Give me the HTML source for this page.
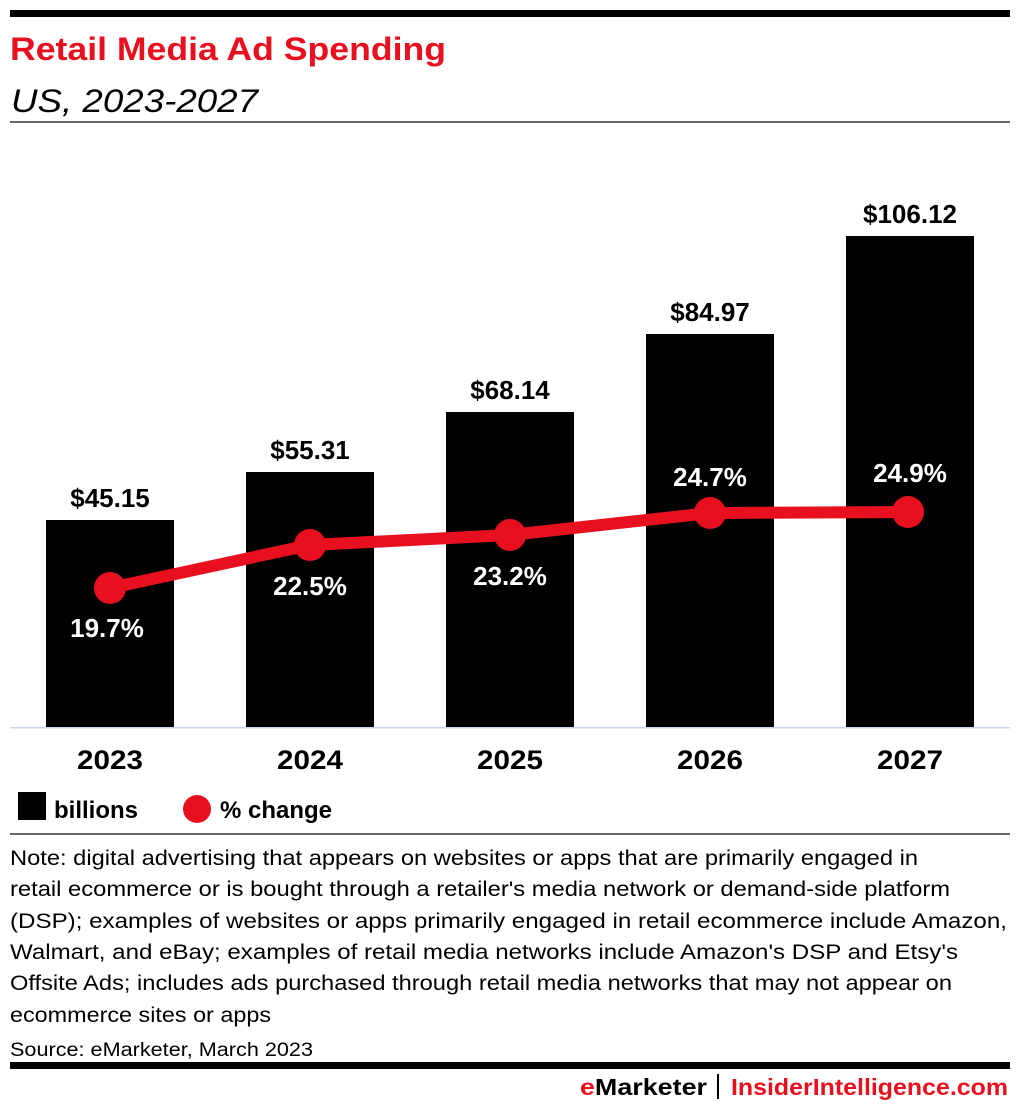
<!DOCTYPE html>
<html><head><meta charset="utf-8"><style>
html,body{margin:0;padding:0;background:#fff;}
svg{display:block;font-family:"Liberation Sans",sans-serif;}
</style></head><body>
<svg width="1020" height="1112" viewBox="0 0 1020 1112" xmlns="http://www.w3.org/2000/svg">
<rect x="10" y="10" width="1000" height="7" fill="#000"/>
<text x="10" y="60" font-size="32" font-weight="bold" fill="#e8101e" textLength="436" lengthAdjust="spacingAndGlyphs">Retail Media Ad Spending</text>
<text x="11" y="112" font-size="32" font-style="italic" fill="#000" textLength="247" lengthAdjust="spacingAndGlyphs">US, 2023-2027</text>
<rect x="10" y="121" width="1000" height="2" fill="#666"/>
<g fill="#000">
<rect x="46" y="520" width="128" height="208"/>
<rect x="246" y="472" width="128" height="256"/>
<rect x="446" y="412" width="128" height="316"/>
<rect x="646" y="334" width="128" height="394"/>
<rect x="846" y="236" width="128" height="492"/>
</g>
<rect x="10" y="727" width="1000" height="1.5" fill="#c8d6e8"/>
<g font-size="26" font-weight="bold" text-anchor="middle" fill="#000">
<text x="110" y="507">$45.15</text>
<text x="310" y="459">$55.31</text>
<text x="510" y="399">$68.14</text>
<text x="710" y="321">$84.97</text>
<text x="910" y="223">$106.12</text>
</g>
<polyline points="110,588 310,545 510,535 710,513 908,512" fill="none" stroke="#e8101e" stroke-width="12" stroke-linejoin="round"/>
<g fill="#e8101e">
<circle cx="110" cy="588" r="16"/><circle cx="310" cy="545" r="16"/><circle cx="510" cy="535" r="16"/><circle cx="710" cy="513" r="16"/><circle cx="908" cy="512" r="16"/>
</g>
<g font-size="26" font-weight="bold" text-anchor="middle" fill="#fff">
<text x="107" y="637">19.7%</text>
<text x="310" y="595">22.5%</text>
<text x="510" y="585">23.2%</text>
<text x="710" y="486">24.7%</text>
<text x="910" y="482">24.9%</text>
</g>
<g font-size="27" font-weight="bold" text-anchor="middle" fill="#000">
<text x="110" y="769" textLength="66" lengthAdjust="spacingAndGlyphs">2023</text>
<text x="310" y="769" textLength="66" lengthAdjust="spacingAndGlyphs">2024</text>
<text x="510" y="769" textLength="66" lengthAdjust="spacingAndGlyphs">2025</text>
<text x="710" y="769" textLength="66" lengthAdjust="spacingAndGlyphs">2026</text>
<text x="910" y="769" textLength="66" lengthAdjust="spacingAndGlyphs">2027</text>
</g>
<rect x="18" y="792" width="28" height="28" fill="#000"/>
<text x="54" y="818" font-size="24" font-weight="bold">billions</text>
<circle cx="197" cy="809" r="14" fill="#e8101e"/>
<text x="220" y="818" font-size="24" font-weight="bold">% change</text>
<rect x="10" y="833" width="1000" height="2" fill="#666"/>
<g font-size="21" fill="#000">
<text x="10" y="865" textLength="908" lengthAdjust="spacingAndGlyphs">Note: digital advertising that appears on websites or apps that are primarily engaged in</text>
<text x="10" y="896" textLength="940" lengthAdjust="spacingAndGlyphs">retail ecommerce or is bought through a retailer's media network or demand-side platform</text>
<text x="10" y="928" textLength="997" lengthAdjust="spacingAndGlyphs">(DSP); examples of websites or apps primarily engaged in retail ecommerce include Amazon,</text>
<text x="10" y="959" textLength="948" lengthAdjust="spacingAndGlyphs">Walmart, and eBay; examples of retail media networks include Amazon's DSP and Etsy's</text>
<text x="10" y="990" textLength="942" lengthAdjust="spacingAndGlyphs">Offsite Ads; includes ads purchased through retail media networks that may not appear on</text>
<text x="10" y="1022" textLength="261" lengthAdjust="spacingAndGlyphs">ecommerce sites or apps</text>
<text x="10" y="1056" font-size="19" textLength="303" lengthAdjust="spacingAndGlyphs">Source: eMarketer, March 2023</text>
</g>
<rect x="10" y="1062" width="1000" height="7" fill="#000"/>
<text x="580" y="1095" font-size="23" font-weight="bold" textLength="127" lengthAdjust="spacingAndGlyphs"><tspan fill="#e8101e">e</tspan><tspan fill="#000">Marketer</tspan></text>
<rect x="717" y="1074" width="2" height="25" fill="#000"/>
<text x="731" y="1095" font-size="23" font-weight="bold" fill="#e8101e" textLength="277" lengthAdjust="spacingAndGlyphs">InsiderIntelligence.com</text>
</svg>
</body></html>
